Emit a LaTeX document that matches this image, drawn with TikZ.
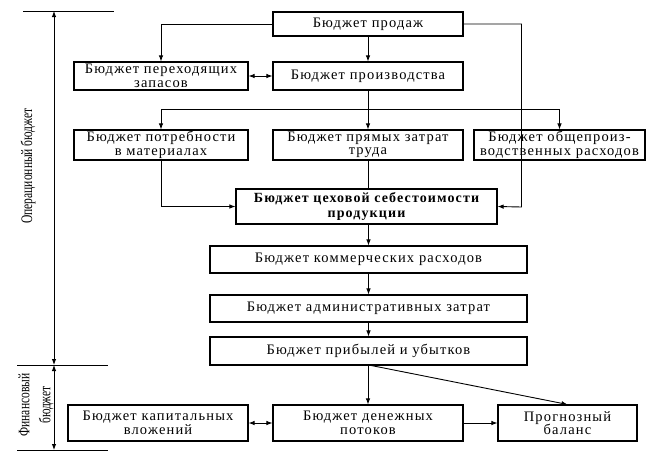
\documentclass[tikz,border=0pt]{standalone}
\usepackage{fontspec}
\setmainfont{Liberation Serif}[LetterSpace=8]
\newfontfamily\narrowfont{Liberation Serif}
\usetikzlibrary{arrows.meta,calc}
\begin{document}
\begin{tikzpicture}[x=1pt,y=-1pt,
  box/.style={draw, line width=1.1pt, inner sep=1pt, align=center,
    font=\fontsize{14.5}{13.5}\selectfont},
  ln/.style={line width=0.9pt},
  arr/.style={ln, -{Latex[length=6pt,width=4.5pt]}},
  darr/.style={ln, {Latex[length=6pt,width=4.5pt]}-{Latex[length=6pt,width=4.5pt]}},
  side/.style={rotate=90, font=\narrowfont\fontsize{16}{21}\selectfont, align=center, inner sep=0pt}]
\useasboundingbox (0,0) rectangle (654,469);

% boxes
\node[box, minimum width=190pt, minimum height=24pt] (prod) at (368,24) {Бюджет продаж};
\node[box, minimum width=174pt, minimum height=28pt] (zap) at (161,76) {Бюджет переходящих\\запасов};
\node[box, minimum width=190pt, minimum height=28pt] (proizv) at (368,76) {Бюджет производства};
\node[box, minimum width=174pt, minimum height=30pt] (potr) at (161,145) {Бюджет потребности\\в материалах};
\node[box, minimum width=190pt, minimum height=30pt] (trud) at (368,145) {Бюджет прямых затрат\\труда};
\node[box, minimum width=171pt, minimum height=30pt] (obsch) at (559.5,145) {Бюджет общепроиз-\\водственных расходов};
\node[box, minimum width=261pt, minimum height=35pt, font=\bfseries\fontsize{14}{15}\selectfont] (ceh) at (366.5,206.5) {Бюджет цеховой себестоимости\\продукции};
\node[box, minimum width=317pt, minimum height=27pt] (komm) at (368.5,259.5) {Бюджет коммерческих расходов};
\node[box, minimum width=317pt, minimum height=27pt] (adm) at (368.5,308.5) {Бюджет административных затрат};
\node[box, minimum width=317pt, minimum height=28pt] (prib) at (368.5,351) {Бюджет прибылей и убытков};
\node[box, minimum width=180pt, minimum height=36pt] (kap) at (158,423) {Бюджет капитальных\\вложений};
\node[box, minimum width=190pt, minimum height=36pt] (den) at (368,423) {Бюджет денежных\\потоков};
\node[box, minimum width=139pt, minimum height=36pt] (prog) at (567.5,423) {Прогнозный\\баланс};

% helper coordinates
\coordinate (rr) at (521.5,207);
\coordinate (split) at (368,109);

% connectors
\draw[arr] (prod.west) -| (zap.north);
\draw[arr] (prod.south) -- (proizv.north);
\draw[arr] (prod.east) -| (rr) -- (ceh.east);
\draw[darr] (zap.east) -- (proizv.west);
\draw[ln] (proizv.south) -- (split);
\draw[arr] (split) -| (potr.north);
\draw[arr] (split) -- (trud.north);
\draw[arr] (split) -| (obsch.north);
\draw[arr] (potr.south) |- (ceh.west);
\draw[ln] (trud.south) -- (trud.south |- ceh.north);
\draw[arr] (ceh.south -| komm.north) -- (komm.north);
\draw[arr] (komm.south) -- (adm.north);
\draw[arr] (adm.south) -- (prib.north);
\draw[arr] (prib.south -| den.north) -- (den.north);
\draw[arr] ($(prib.south)+(3,0)$) -- (prog.north);
\draw[darr] (kap.east) -- (den.west);
\draw[arr] (den.east) -- (prog.west);

% left scale
\coordinate (t1) at (54,11);
\coordinate (t2) at (54,365);
\coordinate (t3) at (54,450);
\draw[ln] (23,11) -- (114,11);
\draw[ln] (17,365) -- (108,365);
\draw[ln] (17,450) -- (108,450);
\draw[darr] (t2) -- (t1);
\draw[darr] (t2) -- (t3);
\node[side] (op) at (28,166) {\scalebox{0.72}[1]{Операционный бюджет}};
\node[side] (fin) at (36,405) {\scalebox{0.72}[1]{Финансовый}\\\scalebox{0.72}[1]{бюджет}};
\end{tikzpicture}
\end{document}
